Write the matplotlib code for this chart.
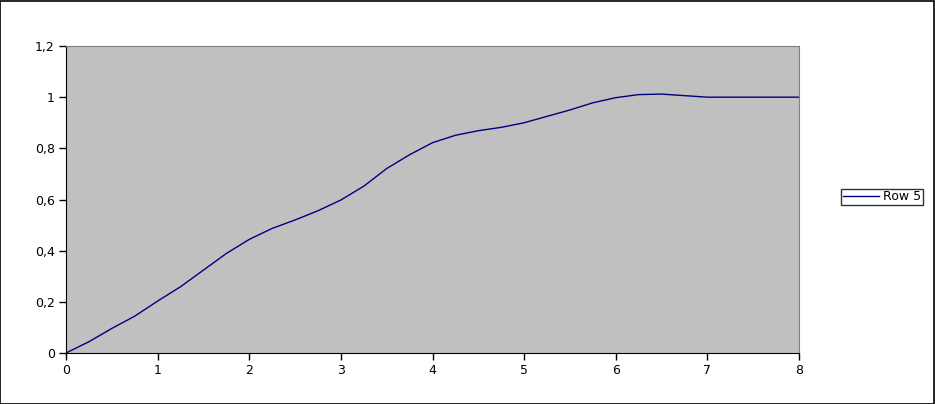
import matplotlib
matplotlib.use("Agg")
import matplotlib.pyplot as plt
from matplotlib.patches import Rectangle
from matplotlib.ticker import FuncFormatter

x_vals = [0, 0.25, 0.5, 0.75, 1, 1.25, 1.5, 1.75, 2, 2.25, 2.5, 2.75, 3, 3.25, 3.5,
          3.75, 4, 4.25, 4.5, 4.75, 5, 5.25, 5.5, 5.75, 6, 6.25, 6.5, 6.75, 7, 7.5, 8]
row5 = [0, 0.044, 0.096, 0.144, 0.203, 0.259, 0.324, 0.389, 0.444, 0.487, 0.52, 0.556,
        0.598, 0.652, 0.721, 0.775, 0.822, 0.851, 0.869, 0.882, 0.9, 0.925, 0.95, 0.978,
        0.998, 1.01, 1.012, 1.006, 1.0, 1.0, 1.0]
x_ticks = [0, 1, 2, 3, 4, 5, 6, 7, 8]
y_ticks = [0, 0.2, 0.4, 0.6, 0.8, 1.0, 1.2]
series_name = "Row 5"

plt.rcParams['font.family'] = ['DejaVu Sans']
fig = plt.figure(figsize=(9.35, 4.04), dpi=100)
fig.patch.set_facecolor('white')
ax = fig.add_axes([66/935, 51/404, 733/935, 307/404])
ax.set_facecolor('#C0C0C0')
line, = ax.plot(x_vals, row5, color='#000080', lw=1.0, label=series_name)
ax.set_xlim(0, 8)
ax.set_ylim(0, 1.2)
ax.set_xticks(x_ticks)
ax.set_yticks(y_ticks)

def fmt(v, pos):
    s = ('%g' % round(v, 2))
    return s.replace('.', ',')

ax.yaxis.set_major_formatter(FuncFormatter(fmt))
ax.tick_params(direction='out', length=5, width=1, colors='black', labelsize=9, pad=3)
for s in ['left', 'bottom']:
    ax.spines[s].set_color('black')
for s in ['top', 'right']:
    ax.spines[s].set_color('#808080')

leg = fig.legend(handles=[line], loc='center', bbox_to_anchor=(882/935, 1 - 197/404),
                 fontsize=9, frameon=True, fancybox=False, shadow=False,
                 handlelength=2.9, handletextpad=0.3, borderpad=0.15, borderaxespad=0)
leg.get_frame().set_edgecolor('black')
leg.get_frame().set_linewidth(1)

fig.patches.append(Rectangle((0.0005, 0.001), 0.998, 0.997, transform=fig.transFigure,
                             fill=False, edgecolor='black', lw=1.2))
fig.savefig('out.png', dpi=100)
